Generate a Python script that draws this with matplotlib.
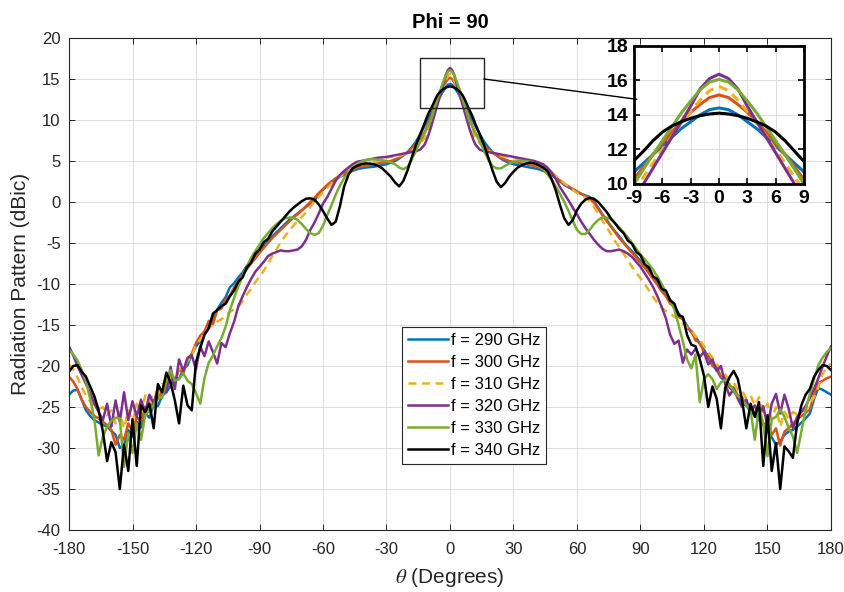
import matplotlib
matplotlib.use('Agg')
import matplotlib.pyplot as plt
from matplotlib.patches import Rectangle, ConnectionPatch

plt.rcParams['font.family'] = ['Liberation Sans', 'DejaVu Sans']
plt.rcParams['mathtext.fontset'] = 'stix'
plt.rcParams['axes.unicode_minus'] = False

# ---------------- data ----------------
theta = list(range(-180, -13, 2)) + list(range(-12, 13)) + list(range(14, 181, 2))

labels = ['f = 290 GHz', 'f = 300 GHz', 'f = 310 GHz',
          'f = 320 GHz', 'f = 330 GHz', 'f = 340 GHz']

f290 = [
    -23.5, -23.0, -22.9, -24.1, -25.4, -26.1, -26.6, -26.9, -27.2, -27.4,
    -27.9, -28.4, -30.0, -29.6, -27.8, -28.6, -26.8, -27.5, -25.8, -26.3,
    -24.7, -24.9, -23.6, -23.2, -22.4, -21.5, -21.6, -20.4, -19.9, -18.6,
    -17.6, -17.0, -15.8, -15.3, -14.2, -13.1, -12.3, -11.6, -10.4, -9.9,
    -9.2, -8.6, -7.8, -7.2, -6.5, -5.9, -5.3, -4.8, -4.2, -3.7,
    -3.2, -2.7, -2.2, -1.8, -1.4, -1.0, -0.6, -0.2, 0.2, 0.9,
    1.5, 2.0, 2.4, 2.8, 3.1, 3.3, 3.6, 3.8, 4.0, 4.1,
    4.2, 4.25, 4.3, 4.4, 4.5, 4.6, 4.8, 5.0, 5.3, 5.7,
    6.1, 6.7, 7.4, 8.3,
    9.3, 9.8, 10.3, 10.7, 11.2, 11.7, 12.2, 12.7, 13.2, 13.6, 14.0, 14.3, 14.4,
    14.3, 14.0, 13.6, 13.2, 12.7, 12.2, 11.7, 11.2, 10.7, 10.2, 9.8, 9.3,
    8.3, 7.4, 6.7, 6.1, 5.7, 5.3, 5.0, 4.8, 4.6, 4.5,
    4.4, 4.3, 4.2, 4.1, 4.0, 3.8, 3.6, 3.3, 2.9, 2.5,
    2.1, 1.8, 1.5, 1.2, 1.0, 0.8, 0.6, 0.1, -0.7, -1.5,
    -2.2, -2.9, -3.6, -4.2, -4.9, -5.5, -6.0, -6.6, -7.2, -7.8,
    -8.5, -9.1, -9.8, -10.5, -11.2, -11.9, -12.7, -13.6, -14.2, -15.1,
    -15.9, -16.4, -17.3, -18.0, -19.0, -19.9, -20.5, -21.4, -21.8, -22.6,
    -23.1, -23.7, -24.6, -24.8, -25.6, -26.0, -26.6, -27.2, -27.8, -28.7,
    -29.6, -29.2, -28.4, -28.0, -27.8, -27.4, -26.9, -26.4, -25.8, -24.0,
    -22.7, -22.9, -23.2, -23.5,
]

f300 = [
    -21.3, -21.9, -22.8, -24.1, -25.0, -25.6, -26.1, -26.4, -26.8, -27.2,
    -27.8, -29.6, -28.4, -29.0, -27.0, -28.0, -26.2, -26.8, -25.0, -25.6,
    -24.2, -24.0, -23.0, -22.8, -21.6, -21.9, -20.4, -20.9, -19.2, -18.5,
    -17.2, -16.3, -15.8, -14.5, -14.9, -13.2, -13.0, -11.9, -11.4, -10.4,
    -9.6, -8.9, -8.2, -7.5, -6.9, -6.2, -5.6, -5.0, -4.4, -3.9,
    -3.4, -2.9, -2.4, -1.9, -1.5, -1.0, -0.5, 0.0, 0.5, 1.1,
    1.6, 2.1, 2.5, 2.9, 3.2, 3.5, 3.8, 4.0, 4.2, 4.3,
    4.4, 4.5, 4.6, 4.7, 4.8, 4.9, 5.0, 5.2, 5.4, 5.7,
    6.0, 6.5, 7.1, 7.9,
    8.5, 9.1, 9.7, 10.3, 11.0, 11.7, 12.35, 13.0, 13.6, 14.15, 14.6, 15.0, 15.15,
    15.0, 14.6, 14.15, 13.6, 13.0, 12.35, 11.7, 11.0, 10.25, 9.6, 9.0, 8.4,
    7.8, 7.0, 6.4, 6.0, 5.7, 5.4, 5.2, 5.0, 4.9, 4.8,
    4.7, 4.6, 4.5, 4.4, 4.2, 4.0, 3.7, 3.4, 3.0, 2.6,
    2.2, 1.9, 1.6, 1.3, 1.0, 0.7, 0.4, -0.1, -0.8, -1.6,
    -2.3, -3.0, -3.7, -4.4, -5.0, -5.6, -6.2, -6.8, -7.4, -8.0,
    -8.7, -9.4, -10.1, -10.9, -11.5, -12.4, -12.8, -14.0, -14.3, -15.4,
    -15.7, -16.9, -17.1, -18.4, -18.6, -20.0, -20.1, -21.3, -21.2, -22.5,
    -22.6, -23.6, -23.8, -24.8, -24.8, -25.8, -26.0, -27.2, -26.8, -28.4,
    -27.6, -29.7, -28.0, -27.6, -27.0, -26.5, -26.1, -25.7, -25.3, -23.5,
    -22.1, -21.8, -21.5, -21.3,
]

f310 = [
    -19.8, -20.4, -21.4, -22.6, -23.6, -24.3, -24.9, -25.2, -25.0, -26.0,
    -25.4, -27.0, -25.6, -27.6, -25.4, -26.8, -24.6, -25.8, -23.6, -24.4,
    -23.2, -23.4, -22.2, -22.6, -21.2, -21.5, -20.4, -20.2, -19.4, -18.8,
    -17.4, -16.8, -16.0, -15.4, -15.0, -14.6, -14.3, -13.8, -13.4, -13.1,
    -12.8, -12.1, -11.3, -10.6, -9.8, -9.1, -8.4, -7.5, -6.6, -5.8,
    -4.9, -4.2, -3.5, -2.9, -2.3, -1.8, -1.3, -0.6, 0.1, 0.6,
    1.2, 1.7, 2.2, 2.7, 3.1, 3.5, 3.9, 4.2, 4.4, 4.6,
    4.7, 4.8, 4.9, 5.0, 5.2, 5.4, 5.5, 5.6, 5.6, 5.8,
    6.0, 6.3, 6.7, 7.2,
    7.8, 8.3, 8.9, 9.6, 10.4, 11.2, 12.0, 12.75, 13.5, 14.2, 14.85, 15.4, 15.65,
    15.4, 14.85, 14.2, 13.5, 12.75, 12.0, 11.2, 10.4, 9.6, 8.9, 8.3, 7.8,
    7.2, 6.7, 6.3, 6.0, 5.8, 5.6, 5.6, 5.5, 5.4, 5.2,
    5.0, 4.9, 4.8, 4.7, 4.5, 4.3, 4.0, 3.6, 3.2, 2.7,
    2.3, 1.9, 1.5, 1.1, 0.8, 0.5, 0.1, -0.6, -1.4, -2.3,
    -3.1, -3.9, -4.8, -5.5, -6.3, -7.1, -7.9, -8.6, -9.3, -10.0,
    -10.8, -11.6, -12.3, -12.9, -13.3, -13.6, -14.0, -14.3, -14.8, -15.3,
    -15.6, -16.4, -16.8, -17.6, -18.3, -19.0, -19.8, -20.3, -21.0, -21.8,
    -22.0, -22.9, -23.0, -24.0, -23.6, -24.8, -23.8, -25.6, -24.6, -26.5,
    -25.0, -27.4, -25.6, -26.4, -25.6, -25.9, -25.6, -25.3, -24.6, -23.8,
    -22.6, -21.0, -20.2, -19.7,
]

f320 = [
    -17.6, -18.7, -20.0, -21.1, -22.2, -23.3, -24.6, -25.6, -26.6, -24.6,
    -27.4, -24.2, -26.8, -23.2, -26.6, -24.3, -26.2, -24.1, -25.6, -23.5,
    -24.6, -22.6, -23.0, -23.2, -20.1, -22.8, -19.2, -20.6, -19.0, -18.7,
    -20.4, -17.6, -18.8, -17.0, -18.3, -19.7, -17.2, -17.7, -16.0, -14.6,
    -12.7, -11.5, -10.4, -9.4, -8.5, -7.9, -7.3, -6.6, -6.3, -6.1,
    -5.9, -6.0, -6.0, -5.9, -5.8, -5.4, -4.6, -3.4, -2.5, -1.4,
    -0.2, 0.6, 1.6, 2.6, 3.3, 3.8, 4.2, 4.6, 4.9, 5.0,
    5.1, 5.2, 5.3, 5.4, 5.45, 5.5, 5.6, 5.7, 5.8, 5.9,
    6.0, 6.1, 6.2, 6.4,
    7.0, 7.6, 8.3, 9.1, 10.0, 10.9, 11.8, 12.7, 13.6, 14.5, 15.5, 16.1, 16.35,
    16.1, 15.5, 14.5, 13.6, 12.7, 11.8, 10.9, 10.0, 9.1, 8.3, 7.6, 7.0,
    6.4, 6.2, 6.1, 6.0, 5.9, 5.8, 5.7, 5.6, 5.5, 5.4,
    5.3, 5.2, 5.1, 5.0, 4.8, 4.6, 4.2, 3.6, 2.8, 1.8,
    1.0, 0.2, -0.7, -1.5, -2.4, -3.2, -3.9, -4.6, -5.2, -5.7,
    -6.0, -6.0, -5.9, -5.8, -6.0, -6.3, -6.7, -7.3, -7.9, -8.7,
    -9.5, -10.4, -11.5, -12.8, -14.2, -16.2, -17.3, -16.9, -19.6, -18.0,
    -18.6, -17.9, -18.9, -18.3, -19.8, -19.2, -20.6, -20.0, -22.2, -23.6,
    -22.8, -24.0, -25.0, -24.1, -25.6, -24.8, -26.2, -24.9, -27.4, -24.6,
    -23.4, -25.8, -23.5, -25.2, -27.6, -26.2, -25.6, -24.9, -23.9, -22.8,
    -21.5, -20.1, -18.8, -17.6,
]

f330 = [
    -18.0, -18.6, -19.3, -20.5, -21.9, -24.0, -26.5, -30.9, -28.6, -27.4,
    -26.7, -26.3, -26.4, -32.3, -28.2, -30.6, -27.0, -29.0, -26.0, -25.4,
    -24.8, -23.7, -23.9, -21.8, -20.5, -21.8, -21.6, -20.9, -21.8, -22.2,
    -23.3, -24.6, -21.5, -19.6, -18.7, -17.6, -16.6, -15.2, -13.2, -11.7,
    -10.3, -9.0, -7.9, -6.8, -6.0, -5.2, -4.4, -3.8, -3.2, -2.7,
    -2.3, -2.0, -1.9, -1.9, -2.2, -2.7, -3.3, -3.8, -4.0, -3.8,
    -2.9, -1.6, -0.4, 0.9, 2.0, 2.9, 3.6, 4.2, 4.6, 4.9,
    5.1, 5.2, 5.2, 5.15, 5.1, 5.0, 4.85, 4.6, 4.2, 4.0,
    4.3, 5.2, 6.3, 7.4,
    8.4, 8.9, 9.5, 10.0, 10.85, 11.7, 12.5, 13.3, 14.1, 14.8, 15.45, 15.9, 16.05,
    15.9, 15.45, 14.8, 14.1, 13.3, 12.5, 11.7, 10.85, 10.0, 9.5, 8.9, 8.4,
    7.4, 6.3, 5.2, 4.4, 4.1, 4.1, 4.4, 4.7, 4.9, 5.0,
    5.0, 5.0, 4.9, 4.7, 4.4, 4.0, 3.4, 2.7, 1.9, 1.0,
    0.0, -1.1, -2.3, -3.4, -3.9, -3.9, -3.4, -2.7, -2.2, -1.9,
    -1.9, -2.1, -2.6, -3.1, -3.7, -4.3, -5.0, -5.7, -6.4, -7.0,
    -7.6, -8.3, -9.1, -10.0, -11.0, -12.0, -13.1, -15.0, -17.0, -19.2,
    -20.3, -18.6, -24.4, -21.6, -21.0, -21.6, -22.8, -22.0, -21.7, -22.2,
    -23.0, -23.7, -24.0, -24.8, -25.4, -29.0, -25.0, -27.0, -31.0, -26.5,
    -26.2, -25.3, -26.2, -27.5, -28.6, -30.6, -28.0, -25.4, -23.4, -21.6,
    -19.9, -19.0, -18.3, -17.8,
]

f340 = [
    -20.7, -20.0, -19.9, -20.7, -21.3, -22.5, -23.7, -25.4, -28.0, -31.6,
    -29.3, -30.5, -35.0, -29.6, -32.8, -26.5, -32.2, -24.8, -25.6, -24.6,
    -27.6, -22.2, -23.2, -20.8, -22.0, -24.2, -27.0, -22.4, -24.8, -25.4,
    -19.5, -17.8, -16.2, -15.4, -13.6, -13.2, -12.7, -12.4, -11.5, -10.8,
    -9.7, -9.2, -8.0, -7.4, -6.3, -5.8, -4.9, -4.5, -3.6, -3.0,
    -2.4, -1.8, -1.2, -0.7, -0.3, 0.1, 0.4, 0.45, 0.3, -0.3,
    -1.1, -2.0, -2.8, -2.4, -0.5, 1.9, 3.3, 4.1, 4.4, 4.6,
    4.7, 4.7, 4.6, 4.4, 4.1, 3.6, 3.1, 2.4, 1.9, 2.6,
    3.9, 5.5, 7.0, 8.3,
    9.6, 10.3, 10.9, 11.35, 11.9, 12.5, 13.0, 13.35, 13.6, 13.8, 13.95, 14.05, 14.1,
    14.05, 13.95, 13.8, 13.6, 13.35, 13.0, 12.5, 11.9, 11.3, 10.8, 10.2, 9.5,
    8.3, 7.0, 5.5, 3.9, 2.5, 1.8, 2.3, 3.1, 3.7, 4.2,
    4.5, 4.7, 4.8, 4.7, 4.5, 4.2, 3.8, 2.8, 1.4, -0.4,
    -2.0, -2.8, -2.2, -1.0, -0.2, 0.3, 0.5, 0.4, 0.0, -0.6,
    -1.2, -2.0, -2.6, -3.3, -3.8, -4.7, -5.1, -6.1, -6.5, -7.6,
    -8.0, -9.1, -9.4, -10.6, -10.8, -12.0, -12.4, -13.8, -14.0, -16.2,
    -17.4, -17.6, -19.2, -21.2, -25.0, -22.5, -24.0, -27.6, -22.7, -21.4,
    -20.6, -21.6, -24.2, -27.6, -24.6, -26.2, -24.4, -32.2, -26.0, -32.8,
    -29.4, -35.0, -29.8, -30.4, -31.2, -27.0, -24.8, -23.5, -22.8, -21.3,
    -20.5, -19.9, -20.0, -20.5,
]

series = [f290, f300, f310, f320, f330, f340]
colors = ['#0072BD', '#D95319', '#EDB120', '#7E2F8E', '#77AC30', '#000000']
styles = ['-', '-', '--', '-', '-', '-']

xticks_main = list(range(-180, 181, 30))
yticks_main = list(range(-40, 21, 5))
xticks_inset = list(range(-9, 10, 3))
yticks_inset = list(range(10, 19, 2))

# ---------------- figure ----------------
fig = plt.figure(figsize=(8.45, 5.92), dpi=100)
ax = fig.add_axes([69 / 845, 62 / 592, 762 / 845, 492 / 592])

txt = '#262626'
lw = 1.8
for y, c, ls, lab in zip(series, colors, styles, labels):
    ln, = ax.plot(theta, y, color=c, lw=lw, ls=ls, label=lab)
    if ls == '--':
        ln.set_dashes([3.2, 2.2])

ax.set_xlim(-180, 180)
ax.set_ylim(-40, 20)
ax.set_xticks(xticks_main)
ax.set_yticks(yticks_main)
ax.grid(True, color='#dcdcdc', lw=0.7)
ax.set_axisbelow(True)
ax.tick_params(direction='in', top=True, right=True, length=4, width=0.7,
               labelsize=12, colors=txt, pad=6)
ax.tick_params(axis='x', pad=9)
for s in ax.spines.values():
    s.set_color(txt)
    s.set_linewidth(0.8)

ax.set_xlabel(r'$\theta$ (Degrees)', fontsize=15, color=txt, labelpad=6)
ax.set_ylabel('Radiation Pattern (dBic)', fontsize=15, color=txt, labelpad=5)
ax.set_title('Phi = 90', fontsize=14.5, fontweight='bold', color='black', pad=7)

leg = ax.legend(loc='lower left', bbox_to_anchor=(0.437, 0.134), fontsize=12,
                frameon=True, fancybox=False, edgecolor='#262626',
                framealpha=1, handlelength=2.4, handletextpad=0.2,
                labelspacing=0.42, borderpad=0.35, borderaxespad=0)
leg.get_frame().set_linewidth(0.8)

# zoom rectangle
rect = Rectangle((-14, 11.5), 30, 6, fill=False, edgecolor='#262626', lw=1.0, zorder=5)
ax.add_patch(rect)

# inset
axins = fig.add_axes([634 / 845, (592 - 184) / 592, 170 / 845, 138.3 / 592])
for y, c, ls in zip(series, colors, styles):
    ln, = axins.plot(theta, y, color=c, lw=lw + 0.4, ls=ls)
    if ls == '--':
        ln.set_dashes([3.0, 2.0])
axins.set_xlim(-9, 9)
axins.set_ylim(10, 18)
axins.set_xticks(xticks_inset)
axins.set_yticks(yticks_inset)
axins.grid(True, color='#dcdcdc', lw=0.7)
axins.set_axisbelow(True)
axins.tick_params(direction='in', top=True, right=True, length=4, width=1.2,
                  labelsize=14, colors='black', pad=4)
for t in axins.get_xticklabels() + axins.get_yticklabels():
    t.set_fontweight('bold')
for s in axins.spines.values():
    s.set_color('black')
    s.set_linewidth(2)

con = ConnectionPatch(xyA=(16, 15.0), coordsA=ax.transData,
                      xyB=(-8.7, 14.9), coordsB=axins.transData,
                      color='black', lw=1.0)
fig.add_artist(con)

fig.savefig('out.png', dpi=100, facecolor='white')
